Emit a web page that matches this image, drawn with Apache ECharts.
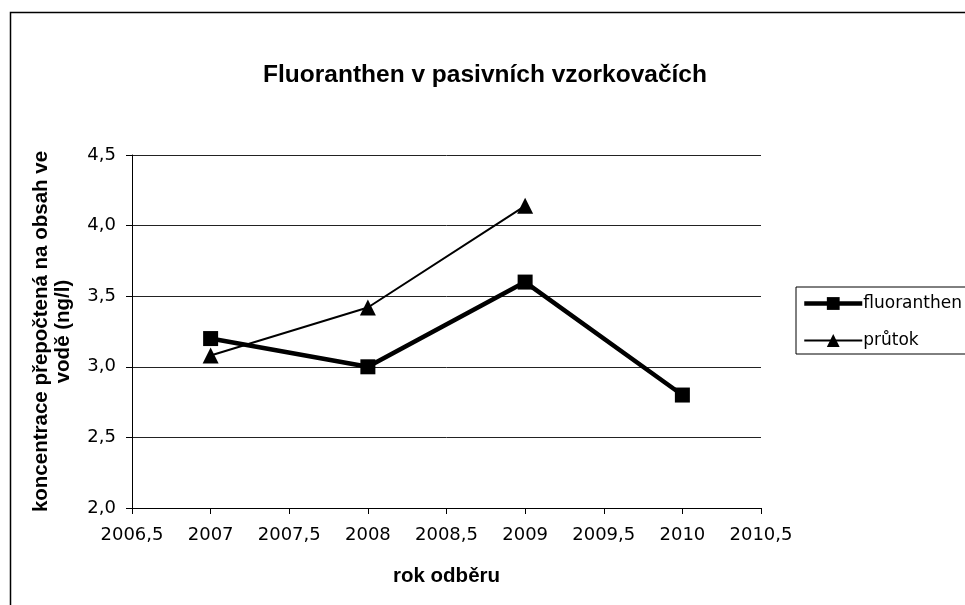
<!DOCTYPE html>
<html>
<head>
<meta charset="utf-8">
<title>Fluoranthen v pasivních vzorkovačích</title>
<script src="https://cdn.jsdelivr.net/npm/echarts@6/dist/echarts.min.js"></script>
<style>
  html, body { margin: 0; padding: 0; background: #fff; }
  #main { width: 965px; height: 605px; }
</style>
</head>
<body>
<div id="main"></div>
<script>
// data
var years = [2007, 2008, 2009, 2010];
var fluoranthen = [3.2, 3.0, 3.6, 2.8];
var prutok = [3.08, 3.42, 4.14, null];
var seriesNames = ["fluoranthen", "průtok"];

function pairs(xs, ys) {
  var out = [];
  for (var i = 0; i < xs.length; i++) {
    if (ys[i] != null) out.push([xs[i], ys[i]]);
  }
  return out;
}

var font = "Liberation Sans, Arial, sans-serif";
// tick labels in the picture are wide, DejaVu comes closest
var wideFont = "DejaVu Sans, sans-serif";
var myChart = echarts.init(document.getElementById("main"));

myChart.setOption({
  animation: false,
  textStyle: { fontFamily: font, color: "#000" },
  title: {
    text: "Fluoranthen v pasivních vzorkovačích",
    left: 480,
    top: 58,
    textAlign: "center",
    textStyle: { fontSize: 24.5, fontWeight: "bold", color: "#000", fontFamily: font }
  },
  // frame of the chart area
  graphic: [
    {
      type: "rect",
      shape: { x: 10.5, y: 12.5, width: 1000, height: 700 },
      style: { fill: null, stroke: "#000", lineWidth: 1.5 },
      silent: true
    }
  ],
  grid: {
    left: 132,
    right: 204,
    top: 155,
    bottom: 97
  },
  legend: {
    orient: "vertical",
    left: 796,
    top: 287,
    width: 200,
    padding: [8, 40, 5, 6],
    itemGap: 20,
    itemWidth: 58,
    itemHeight: 16,
    borderColor: "#000",
    borderWidth: 1,
    textStyle: { fontSize: 17, color: "#000", fontFamily: wideFont, padding: [0, 0, 0, -4] },
    data: [
      { name: seriesNames[0], lineStyle: { width: 4.5, color: "#000" }, itemStyle: { color: "#000" } },
      { name: seriesNames[1], lineStyle: { width: 2, color: "#000" }, itemStyle: { color: "#000" } }
    ]
  },
  xAxis: {
    type: "value",
    min: 2006.5,
    max: 2010.5,
    interval: 0.5,
    name: "rok odběru",
    nameLocation: "middle",
    nameGap: 58,
    nameTextStyle: { fontSize: 20.5, fontWeight: "bold", color: "#000", fontFamily: font },
    axisLine: { lineStyle: { color: "#000", width: 1 } },
    axisTick: { show: true, inside: false, length: 6, lineStyle: { color: "#000" } },
    splitLine: { show: false },
    axisLabel: {
      fontSize: 18,
      fontFamily: wideFont,
      color: "#000",
      margin: 18,
      formatter: function (v) {
        return String(v).replace(".", ",");
      }
    }
  },
  yAxis: {
    type: "value",
    min: 2.0,
    max: 4.5,
    interval: 0.5,
    name: "koncentrace přepočtená na obsah ve\nvodě (ng/l)",
    nameLocation: "middle",
    nameRotate: 90,
    nameGap: 58,
    nameTextStyle: { fontSize: 20.5, fontWeight: "bold", color: "#000", fontFamily: font, align: "center", lineHeight: 22 },
    axisLine: { show: true, lineStyle: { color: "#000", width: 1 } },
    axisTick: { show: true, inside: false, length: 6, lineStyle: { color: "#000" } },
    splitLine: { show: true, lineStyle: { color: "#222", width: 1 } },
    axisLabel: {
      fontSize: 18,
      fontFamily: wideFont,
      color: "#000",
      margin: 16,
      formatter: function (v) {
        return v.toFixed(1).replace(".", ",");
      }
    }
  },
  series: [
    {
      name: seriesNames[0],
      type: "line",
      symbol: "rect",
      symbolSize: 15,
      lineStyle: { color: "#000", width: 4.5 },
      itemStyle: { color: "#000" },
      z: 3,
      data: pairs(years, fluoranthen)
    },
    {
      name: seriesNames[1],
      type: "line",
      symbol: "triangle",
      symbolSize: 16,
      lineStyle: { color: "#000", width: 2 },
      itemStyle: { color: "#000" },
      z: 2,
      data: pairs(years, prutok)
    }
  ]
});
</script>
</body>
</html>
